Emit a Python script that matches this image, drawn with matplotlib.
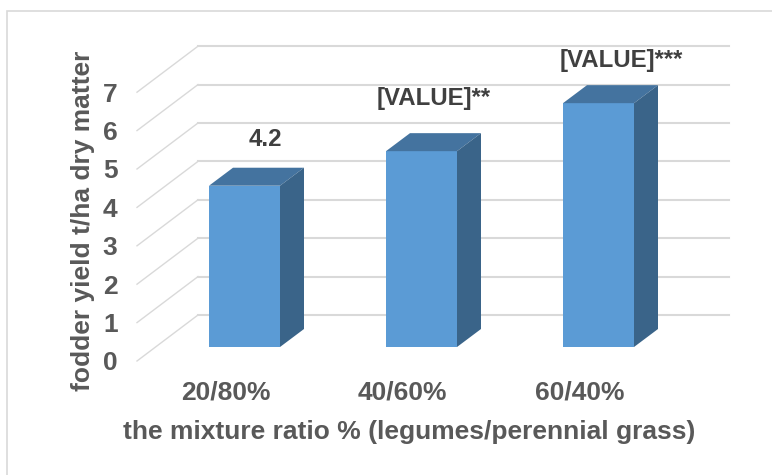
import matplotlib
matplotlib.use("Agg")
import matplotlib.pyplot as plt
from matplotlib.patches import Polygon, Rectangle

categories = ["20/80%", "40/60%", "60/40%"]
yields = [4.2, 5.1, 6.35]
bar_labels = ["4.2", "[VALUE]**", "[VALUE]***"]
y_ticks = [0, 1, 2, 3, 4, 5, 6, 7]

W, H = 772, 475
plt.rcParams["font.family"] = ["Liberation Sans", "DejaVu Sans"]
plt.rcParams["font.weight"] = "bold"

fig = plt.figure(figsize=(W / 100, H / 100), dpi=100)
# the axes is the front plane of the fake 3d box
ax = fig.add_axes([137 / W, 1 - 361 / H, 531 / W, 268.8 / H])
ax.set_xlim(-0.5, 2.5)
ax.set_ylim(0, 7)
ax.patch.set_visible(False)
for s in ax.spines.values():
    s.set_visible(False)

px_x = 3 / 531
px_y = 7 / 268.8
grid_color = "#d9d9d9"

# floor depth in pixels
depth_x, depth_y = 61 * px_x, 46 * px_y
for t in y_ticks:
    ax.plot([-0.5, -0.5 + depth_x], [t, t + depth_y],
            color=grid_color, lw=1.0, clip_on=False, zorder=1)
    ax.plot([-0.5 + depth_x, 2.5 + depth_x], [t + depth_y, t + depth_y],
            color=grid_color, lw=1.5, clip_on=False, zorder=1)

# bars sit a bit behind the front plane
off_x, off_y = 19 * px_x, 14 * px_y
bar_dx, bar_dy = 24 * px_x, 18 * px_y
width = 71 * px_x
for i, v in enumerate(yields):
    x0 = i + off_x - width / 2
    x1 = x0 + width
    top = v + off_y
    ax.bar(x0, v, width, bottom=off_y, align="edge", color="#5b9bd5", clip_on=False, zorder=3)
    ax.add_patch(Polygon([(x0, top), (x1, top), (x1 + bar_dx, top + bar_dy), (x0 + bar_dx, top + bar_dy)],
                         color="#44739f", lw=0, clip_on=False, zorder=3))
    ax.add_patch(Polygon([(x1, off_y), (x1, top), (x1 + bar_dx, top + bar_dy), (x1 + bar_dx, off_y + bar_dy)],
                         color="#3a6489", lw=0, clip_on=False, zorder=3))

label_pos = [(265, 140), (434, 99), (621, 61)]
for (lx, ly), txt in zip(label_pos, bar_labels):
    fig.text(lx / W, 1 - ly / H, txt, ha="center", va="center", fontsize=17.3, color="#404040")

ax.set_xticks(range(len(categories)), categories, fontsize=19, color="#595959")
ax.set_yticks(y_ticks, [str(t) for t in y_ticks], fontsize=19, color="#595959")
ax.tick_params(axis="both", length=0)
ax.tick_params(axis="y", pad=14)
ax.tick_params(axis="x", pad=14)

fig.text(409 / W, 1 - 431.5 / H, "the mixture ratio % (legumes/perennial grass)",
         ha="center", va="center", fontsize=19, color="#595959")
fig.text(83 / W, 1 - 220.5 / H, "fodder yield t/ha dry matter", rotation=90,
         ha="center", va="center", fontsize=19, color="#595959")

# chart frame
fig.add_artist(Rectangle((7 / W, -0.05), 1, 1 - 11 / H + 0.05, transform=fig.transFigure,
                         fill=False, edgecolor=grid_color, lw=1.2))

fig.savefig("out.png", dpi=100)
